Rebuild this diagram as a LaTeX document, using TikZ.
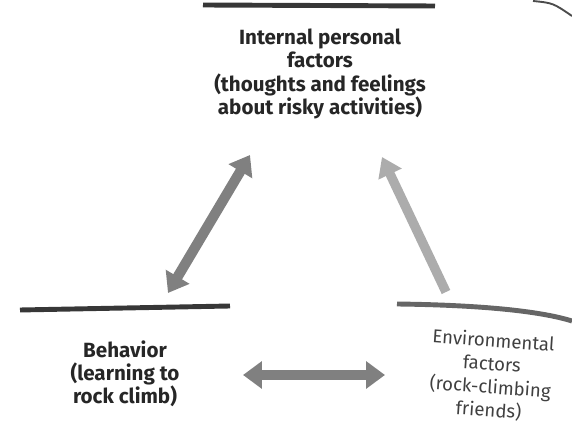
\documentclass[tikz,border=0pt]{standalone}
\usepackage{fontspec}
\setmainfont{Fira Sans}
\usetikzlibrary{arrows.meta}
\definecolor{arrowgray}{RGB}{128,128,128}
\definecolor{fadegray}{RGB}{172,172,172}
\definecolor{bargray}{RGB}{55,55,55}
\begin{document}
\begin{tikzpicture}[
x=0.02646cm, y=-0.02646cm,
bar/.style = {line width=1.3mm, bargray},
label/.style = {align=center, font=\fontsize{14}{17.5}\selectfont, text=black!85, inner sep=0pt},
boldlabel/.style = {label, font=\fontsize{15.5}{17.5}\selectfont\bfseries},
biarrow/.style = {line width=2.7mm, arrowgray, {Triangle[width=7mm,length=5mm]}-{Triangle[width=7mm,length=5mm]}},
onearrow/.style = {line width=2.5mm, fadegray, -{Triangle[width=6.5mm,length=5mm]}}
                        ]
\useasboundingbox (0,0) rectangle (572,435);

% top group
\draw[bar] (203,5) -- (435,6);
\node[boldlabel] (internal) at (320,74)
  {Internal personal\\factors\\(thoughts and feelings\\about risky activities)};

% page edge top right
\draw[line width=0.5mm, black!70] (533,1) .. controls (553,3) .. (572,16);

% left group
\draw[bar] (20,310) -- (230,306);
\node[boldlabel] (behavior) at (125,374)
  {Behavior\\(learning to\\rock climb)};

% right group
\draw[bar, black!60] (397,304) .. controls (480,305) and (540,311) .. (572,321);
\node[label, text=black!75, rotate=-4] (environ) at (491,376)
  {Environmental\\factors\\(rock-climbing\\friends)};

% arrow ends
\coordinate (bi1) at (168,293);
\coordinate (it1) at (250,155);
\coordinate (it2) at (382,157);
\coordinate (en1) at (446,292);
\coordinate (bh2) at (243,375);
\coordinate (en2) at (385,375);

% arrows
\draw[biarrow] (bi1) -- (it1);
\draw[onearrow] (en1) -- (it2);
\draw[biarrow] (bh2) -- (en2);

\end{tikzpicture}
\end{document}
